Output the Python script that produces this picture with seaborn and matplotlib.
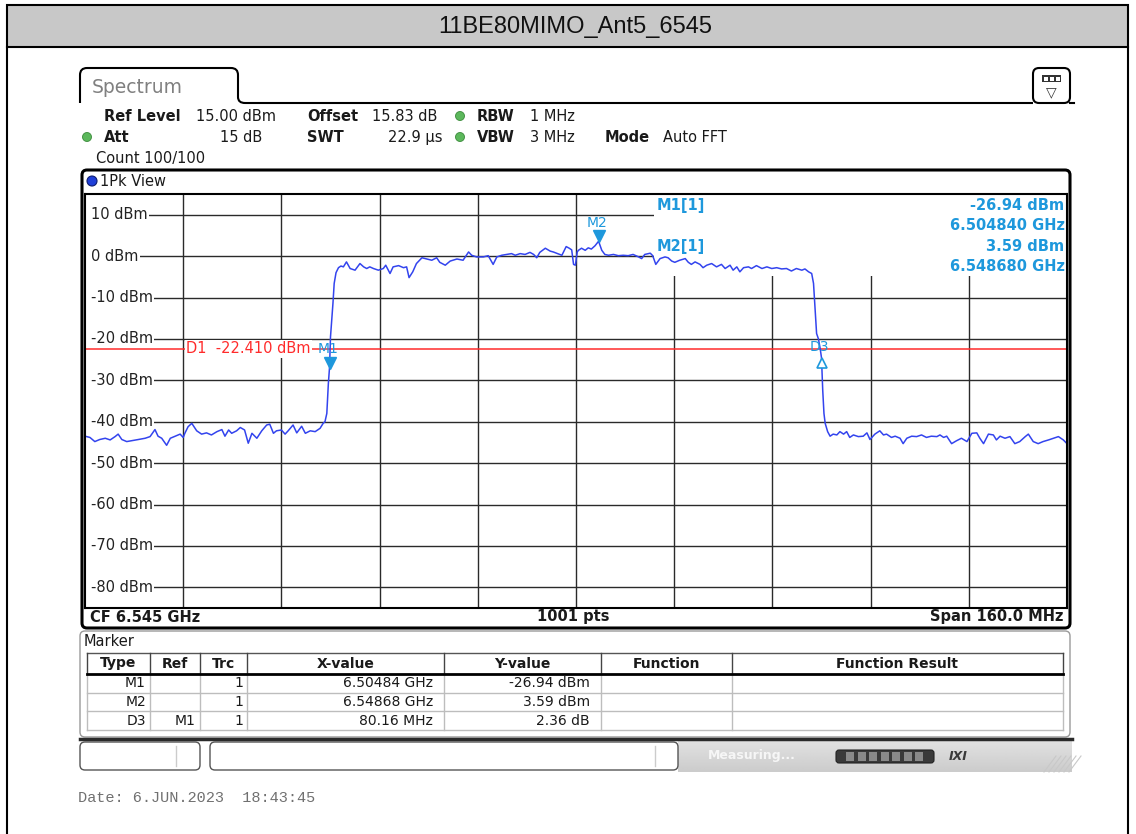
import matplotlib
matplotlib.use("Agg")
import matplotlib.pyplot as plt
import seaborn as sns
import numpy as np
from matplotlib.patches import Rectangle, FancyBboxPatch, Circle, PathPatch
from matplotlib.path import Path
from matplotlib.transforms import offset_copy, blended_transform_factory

# ---------------- data ----------------
TITLE = "11BE80MIMO_Ant5_6545"
CF_GHZ = 6.545
SPAN_MHZ = 160.0
START_GHZ = CF_GHZ - SPAN_MHZ / 2000.0
STOP_GHZ = CF_GHZ + SPAN_MHZ / 2000.0
REF_LEVEL_DBM = 15.0
BOTTOM_DBM = -85.0
N_POINTS = 1001
y_tick_levels = [10, 0, -10, -20, -30, -40, -50, -60, -70, -80]
x_divisions = 10

# trace: offset from start frequency (MHz) and level (dBm)
trace_offset_mhz = [
    0.0, 0.8, 1.6, 2.4, 3.3, 4.1, 4.9, 5.4, 6.0, 6.8, 7.6, 8.7, 9.8, 10.6, 11.4, 11.9,
    12.5, 13.3, 13.9, 14.7, 15.5, 16.0, 16.3, 16.8, 17.4, 18.2, 19.0, 19.8, 20.6, 21.5,
    22.3, 22.8, 23.4, 23.9, 24.7, 25.3, 26.0, 26.6, 27.2, 28.0, 28.8, 29.6, 30.1, 30.7,
    31.2, 32.0, 32.6, 33.1, 33.9, 34.5, 35.3, 35.9, 36.7, 37.5, 38.3, 38.8, 39.1, 39.4,
    39.65, 39.84, 40.0, 40.4, 40.6, 40.9, 41.3, 41.7, 42.1, 42.6, 43.2, 44.0, 44.8, 45.4,
    45.9, 46.4, 47.0, 47.8, 48.6, 49.0, 49.7, 50.2, 51.1, 51.9, 52.4, 52.8, 53.4, 54.0,
    54.9, 55.7, 56.5, 57.3, 57.8, 58.7, 59.5, 60.6, 61.6, 62.5, 63.0, 63.8, 64.9, 65.7,
    66.5, 67.1, 67.9, 68.7, 69.5, 70.1, 70.9, 71.7, 72.5, 73.1, 73.6, 74.1, 75.0, 75.8,
    76.3, 77.0, 77.7, 78.4, 78.9, 79.3, 79.6, 79.9, 80.2, 80.4, 80.9, 81.5, 82.0, 82.5,
    83.1, 83.68, 84.2, 84.7, 85.3, 86.1, 86.9, 87.7, 88.5, 89.3, 90.2, 90.7, 91.2, 92.1,
    92.5, 93.0, 93.7, 94.5, 95.0, 95.6, 96.1, 96.9, 97.8, 98.3, 98.8, 99.4, 100.2, 100.7,
    101.3, 102.1, 102.9, 103.7, 104.3, 105.1, 105.6, 106.2, 106.7, 107.3, 108.1, 108.6,
    109.4, 110.3, 111.1, 111.9, 112.7, 113.5, 114.3, 115.1, 115.9, 116.8, 117.3, 117.9,
    118.4, 118.7, 118.9, 119.2, 119.5, 119.8, 120.0, 120.2, 120.4, 120.6, 121.0, 121.4,
    121.9, 122.5, 123.0, 123.6, 124.1, 124.6, 125.2, 126.0, 126.8, 127.4, 127.9, 128.7,
    129.5, 130.1, 130.6, 131.4, 132.0, 132.8, 133.3, 133.9, 134.7, 135.5, 136.3, 137.1,
    137.9, 138.8, 139.3, 139.9, 140.4, 141.2, 142.0, 142.8, 143.7, 144.5, 145.3, 145.8,
    146.4, 147.2, 148.0, 148.5, 149.1, 149.9, 150.7, 151.5, 152.3, 153.2, 153.7, 154.5,
    155.3, 156.1, 157.0, 157.8, 158.6, 159.4, 160.0,
]
trace_dbm = [
    -43.5, -43.8, -44.8, -44.3, -44.0, -44.4, -43.6, -43.0, -44.3, -44.8, -44.6, -44.3, -44.0, -43.6, -41.9, -43.5,
    -44.0, -45.7, -44.0, -43.5, -43.0, -43.8, -42.7, -41.2, -40.4, -42.2, -43.0, -42.7, -43.2, -42.4,
    -41.9, -43.5, -42.0, -42.8, -42.2, -41.4, -42.0, -45.2, -42.8, -44.0, -42.2, -40.8, -40.6, -42.8,
    -42.2, -42.0, -43.0, -42.2, -40.8, -42.7, -41.1, -42.8, -42.2, -42.4, -41.6, -40.4, -40.0, -38.0,
    -30.8, -26.94, -19.5, -11.4, -6.6, -4.0, -2.8, -2.4, -2.6, -1.4, -3.0, -3.4, -1.8, -2.6,
    -3.0, -2.6, -3.0, -3.4, -3.0, -2.2, -4.2, -2.6, -2.3, -2.8, -2.6, -5.2, -3.8, -1.8,
    -0.4, -0.7, -1.0, -0.4, -1.5, -2.2, -1.2, -0.7, -1.0, 1.0, 0.2, -0.2, -0.2, 0.1,
    -2.0, -0.2, 0.2, 0.4, 0.6, 0.2, 0.6, 0.4, 0.9, 0.4, -0.4, 0.9, 1.9, 1.2,
    1.0, 0.6, 0.2, 2.3, 1.9, 1.5, -2.0, -2.2, 1.0, 1.4, 1.9, 1.4, 2.0, 1.7,
    2.5, 3.59, 1.4, 0.4, 0.2, 0.4, 0.1, 0.2, 0.1, 0.4, -0.2, -0.6, 0.4, 0.7,
    0.1, -2.0, -0.6, -0.2, -0.4, -1.2, -1.5, -1.0, -0.6, -1.5, -2.0, -1.4, -2.0, -2.8,
    -2.2, -1.8, -2.6, -2.0, -3.0, -2.2, -3.4, -2.6, -3.8, -2.8, -2.6, -3.0,
    -2.3, -3.0, -2.6, -3.0, -2.8, -3.1, -3.0, -3.6, -3.0, -3.4, -3.1, -3.8,
    -4.2, -6.6, -11.4, -18.7, -20.0, -22.5, -24.58, -32.4, -38.0, -40.4, -42.4, -43.5,
    -43.0, -43.2, -42.4, -43.0, -42.4, -43.8, -43.2, -43.6, -43.5, -42.7, -44.3, -43.0,
    -42.2, -43.2, -43.0, -43.8, -43.5, -44.0, -45.3, -44.0, -43.5, -43.6, -43.2, -43.8,
    -43.5, -43.6, -43.2, -43.8, -43.5, -45.3, -44.6, -44.0, -44.8, -42.8, -42.7, -44.0,
    -45.3, -43.0, -43.2, -44.4, -43.5, -44.0, -43.6, -45.3, -44.8, -43.6, -43.0, -44.8,
    -45.3, -44.8, -44.4, -44.0, -43.6, -44.4, -45.3,
]

display_line_dbm = -22.410
marker_types = ["M1", "M2", "D3"]
marker_refs = ["", "", "M1"]
marker_trcs = [1, 1, 1]
m1_freq_ghz, m1_level_dbm = 6.50484, -26.94
m2_freq_ghz, m2_level_dbm = 6.54868, 3.59
d3_delta_mhz, d3_delta_db = 80.16, 2.36

info_row1 = [("Ref Level", True), ("15.00 dBm", False), ("Offset", True), ("15.83 dB", False),
             ("RBW", True), ("1 MHz", False)]
info_row2 = [("Att", True), ("15 dB", False), ("SWT", True), ("22.9 µs", False),
             ("VBW", True), ("3 MHz", False), ("Mode", True), ("Auto FFT", False)]
count_text = "Count 100/100"
date_text = "Date: 6.JUN.2023  18:43:45"
table_headers = ["Type", "Ref", "Trc", "X-value", "Y-value", "Function", "Function Result"]

# ---------------- derived ----------------
trace_ghz = [START_GHZ + m / 1000.0 for m in trace_offset_mhz]
d3_freq_ghz = m1_freq_ghz + d3_delta_mhz / 1000.0
d3_level_dbm = m1_level_dbm + d3_delta_db
table_x = [f"{m1_freq_ghz:.5f} GHz", f"{m2_freq_ghz:.5f} GHz", f"{d3_delta_mhz:.2f} MHz"]
table_y = [f"{m1_level_dbm:.2f} dBm", f"{m2_level_dbm:.2f} dBm", f"{d3_delta_db:.2f} dB"]

# ---------------- figure ----------------
W, H = 1136, 834
fig = plt.figure(figsize=(W / 100, H / 100), dpi=100)
fig.patch.set_facecolor("white")
bg = fig.add_axes([0, 0, 1, 1], zorder=0)
bg.set_xlim(0, W)
bg.set_ylim(H, 0)
bg.set_autoscale_on(False)
bg.axis("off")

TXT = "#1a1a1a"
# outer frame and header
bg.add_patch(Rectangle((7, 5), 1121, 42, fc="#c8c8c8", ec="black", lw=1.5))
bg.plot([7, 7], [47, 840], color="black", lw=1.5)
bg.plot([1128, 1128], [47, 840], color="black", lw=1.5)
bg.text(575, 27, TITLE, ha="center", va="center", fontsize=17,
        family=["Liberation Sans", "DejaVu Sans"], color="#111")

# spectrum tab
M, L, C = Path.MOVETO, Path.LINETO, Path.CURVE3
verts = [(80, 103), (80, 75), (80, 68), (87, 68), (231, 68), (238, 68), (238, 75),
         (238, 97), (238, 103), (245, 103), (1033, 103)]
codes = [M, L, C, C, L, C, C, L, C, C, L]
bg.add_patch(PathPatch(Path(verts, codes), fc="none", ec="black", lw=1.5))
bg.plot([1070, 1074], [103, 103], color="black", lw=1.5)
bg.text(92, 87, "Spectrum", ha="left", va="center", fontsize=13.5, color="#808080")
bg.add_patch(FancyBboxPatch((1033, 68), 37, 35, boxstyle="round,pad=0,rounding_size=6",
                            fc="white", ec="black", lw=1.5))
bg.add_patch(Rectangle((1042, 75), 19, 7, fc="#333333", ec="none"))
for xx in (1044, 1050, 1056):
    bg.add_patch(Rectangle((xx, 76.5), 3.5, 4, fc="white", ec="none"))
bg.text(1051.5, 92, "▽", ha="center", va="center", fontsize=10, color="#333")

# info rows
GREEN = "#5cb85c"
row1_x = [104, 196, 307, 372, 477, 530]
row2_x = [104, 262, 307, 442, 477, 530, 605, 663]
row2_align = ["left", "right", "left", "right", "left", "left", "left", "left"]
for (t, b), x in zip(info_row1, row1_x):
    bg.text(x, 116, t, ha="left", va="center", fontsize=10.5, color=TXT,
            fontweight="bold" if b else "normal")
for (t, b), x, a in zip(info_row2, row2_x, row2_align):
    bg.text(x, 137, t, ha=a, va="center", fontsize=10.5, color=TXT,
            fontweight="bold" if b else "normal")
for cx, cy in [(460, 116), (87, 137), (460, 137)]:
    bg.add_patch(Circle((cx, cy), 4.5, fc=GREEN, ec="#3a8a3a", lw=0.6))
bg.text(96, 158, count_text, ha="left", va="center", fontsize=10.5, color=TXT)

# plot frame
bg.add_patch(FancyBboxPatch((82, 170), 988, 458, boxstyle="round,pad=0,rounding_size=5",
                            fc="white", ec="black", lw=2.2))
bg.add_patch(Circle((92, 181), 5, fc="#1f3fd8", ec="#0c1c70", lw=0.8))
bg.text(100, 181, "1Pk View", ha="left", va="center", fontsize=10.5, color=TXT)
bg.text(90, 617, f"CF {CF_GHZ:.3f} GHz", ha="left", va="center", fontsize=10.5,
        fontweight="bold", color=TXT)
bg.text(573, 617, f"{N_POINTS} pts", ha="center", va="center", fontsize=10.5,
        fontweight="bold", color=TXT)
bg.text(1063, 617, f"Span {SPAN_MHZ:.1f} MHz", ha="right", va="center", fontsize=10.5,
        fontweight="bold", color=TXT)

# marker table panel
bg.add_patch(FancyBboxPatch((80, 631), 990, 106, boxstyle="round,pad=0,rounding_size=5",
                            fc="white", ec="#9a9a9a", lw=1.0))
bg.text(84, 641, "Marker", ha="left", va="center", fontsize=10.5, color=TXT)
col_x = [87, 150, 200, 247, 444, 601, 732, 1063]
hdr_top, hdr_bot = 653, 674
row_edges = [674, 692.7, 711.4, 730]
bg.plot([col_x[0], col_x[-1]], [hdr_top, hdr_top], color="#555", lw=1.0)
for x in col_x:
    bg.plot([x, x], [hdr_top, hdr_bot], color="#444", lw=1.0)
    bg.plot([x, x], [hdr_bot, row_edges[-1]], color="#bdbdbd", lw=1.0)
for y in row_edges[1:]:
    bg.plot([col_x[0], col_x[-1]], [y, y], color="#bdbdbd", lw=1.0)
bg.plot([col_x[0], col_x[-1]], [hdr_bot, hdr_bot], color="black", lw=2.0)
for i, h in enumerate(table_headers):
    bg.text((col_x[i] + col_x[i + 1]) / 2, 663.5, h, ha="center", va="center",
            fontsize=10, fontweight="bold", color=TXT)
for r in range(3):
    cy = (row_edges[r] + row_edges[r + 1]) / 2
    cells = [marker_types[r], marker_refs[r], str(marker_trcs[r]), table_x[r], table_y[r]]
    pads = [4, 4, 4, 11, 11]
    for c, (txt, p) in enumerate(zip(cells, pads)):
        bg.text(col_x[c + 1] - p, cy, txt, ha="right", va="center", fontsize=10, color=TXT)

# status bar
bg.plot([80, 1072], [739, 739], color="#2a2a2a", lw=2.5)
grad = np.linspace(0.88, 0.80, 30).reshape(-1, 1)
bg.imshow(grad, extent=[678, 1072, 772, 741], aspect="auto", cmap="gray", vmin=0, vmax=1,
          origin="upper", zorder=0.5)
bg.add_patch(FancyBboxPatch((80, 742), 120, 28, boxstyle="round,pad=0,rounding_size=5",
                            fc="white", ec="#555", lw=1.0))
bg.add_patch(FancyBboxPatch((210, 742), 468, 28, boxstyle="round,pad=0,rounding_size=5",
                            fc="white", ec="#555", lw=1.0))
bg.plot([176, 176], [746, 766], color="#cccccc", lw=1)
bg.plot([655, 655], [746, 766], color="#cccccc", lw=1)
bg.text(708, 756, "Measuring...", ha="left", va="center", fontsize=9, color="#f6f6f6",
        fontweight="bold")
bg.add_patch(FancyBboxPatch((836, 750), 98, 13, boxstyle="round,pad=0,rounding_size=3",
                            fc="#3a3a3a", ec="#222", lw=0.8))
for k in range(7):
    bg.add_patch(Rectangle((846 + k * 11.5, 752), 8, 9, fc="#8a8a8a", ec="none"))
bg.text(958, 756, "IXI", ha="center", va="center", fontsize=9, fontweight="bold",
        fontstyle="italic", color="#3a3a3a")
for k in range(6):
    bg.plot([1044 + k * 5, 1056 + k * 5], [772, 756], color="#c8c8c8", lw=0.8)

bg.text(78, 798, date_text, ha="left", va="center", fontsize=11,
        family=["Liberation Mono", "DejaVu Sans Mono"], color="#707070")

# ---------------- spectrum axes ----------------
ax = fig.add_axes([85 / W, 1 - 608 / H, 982 / W, 414 / H], zorder=2)
ax.set_facecolor("white")
ax.set_xlim(START_GHZ, STOP_GHZ)
ax.set_ylim(BOTTOM_DBM, REF_LEVEL_DBM)
for s in ax.spines.values():
    s.set_color("black")
    s.set_linewidth(1.5)
    s.set_zorder(6)
ax.set_xticks([])
ax.set_yticks([])

GRID = "#2a2a2a"
step = (STOP_GHZ - START_GHZ) / x_divisions
for k in range(1, x_divisions):
    ax.axvline(START_GHZ + k * step, color=GRID, lw=1.0, zorder=1)
ylab_tr = blended_transform_factory(ax.transAxes, ax.transData)
for lv in y_tick_levels:
    ax.axhline(lv, color=GRID, lw=1.0, zorder=1)
    ax.text(0.006, lv, f"{lv} dBm", transform=ylab_tr, ha="left", va="center",
            fontsize=10.5, color="#222", zorder=2,
            bbox=dict(fc="white", ec="none", pad=1.0))
# left margin strip: grid lines begin after the level labels
ax.add_patch(Rectangle((0, 0), 0.0075, 1, transform=ax.transAxes, fc="white", ec="none",
                       zorder=1.5))

# marker-info area hides the grid
ax.add_patch(Rectangle((0.5794, 0.802), 1 - 0.5794, 0.198, transform=ax.transAxes,
                       fc="white", ec="none", zorder=1.5))

RED = "#ff2b2b"
ax.axhline(display_line_dbm, color=RED, lw=1.1, zorder=2.2)
ax.text(0.1029, display_line_dbm, f"D1  {display_line_dbm:.3f} dBm", transform=ylab_tr,
        ha="left", va="center", fontsize=10.5, color=RED, zorder=2.3,
        bbox=dict(fc="white", ec="none", pad=0.8))

sns.lineplot(x=trace_ghz, y=trace_dbm, ax=ax, color="#3344ee", lw=1.1, zorder=3,
             sort=False, estimator=None)
ax.set_xlabel("")
ax.set_ylabel("")

MC = "#1e98dc"
down_tr = offset_copy(ax.transData, fig=fig, x=0, y=5, units="dots")
up_tr = offset_copy(ax.transData, fig=fig, x=0, y=-5, units="dots")
ax.plot([m1_freq_ghz], [m1_level_dbm], marker="v", ms=8.5, color=MC, ls="none",
        transform=down_tr, zorder=4)
ax.plot([m2_freq_ghz], [m2_level_dbm], marker="v", ms=8.5, color=MC, ls="none",
        transform=down_tr, zorder=4)
ax.plot([d3_freq_ghz], [d3_level_dbm], marker="^", ms=7.5, mfc="white", mec=MC, mew=1.2,
        ls="none", transform=up_tr, zorder=4)
for name, f, l, dy in [("M1", m1_freq_ghz, m1_level_dbm, 13.3),
                       ("M2", m2_freq_ghz, m2_level_dbm, 13.0),
                       ("D3", d3_freq_ghz, d3_level_dbm, 8.0)]:
    ax.annotate(name, (f, l), xytext=(-1.2, dy), textcoords="offset points", ha="center",
                va="center", fontsize=10, color=MC, zorder=5)

info_left_x = 0.5825
info_right_x = 0.9975
for txt, y in [("M1[1]", 0.9734), ("M2[1]", 0.874)]:
    ax.text(info_left_x, y, txt, transform=ax.transAxes, ha="left", va="center",
            fontsize=10.5, fontweight="bold", color=MC, zorder=5)
for txt, y in [(f"{m1_level_dbm:.2f} dBm", 0.9734), (f"{m1_freq_ghz:.6f} GHz", 0.925),
               (f"{m2_level_dbm:.2f} dBm", 0.874), (f"{m2_freq_ghz:.6f} GHz", 0.826)]:
    ax.text(info_right_x, y, txt, transform=ax.transAxes, ha="right", va="center",
            fontsize=10.5, fontweight="bold", color=MC, zorder=5)

fig.savefig("out.png", dpi=100)
